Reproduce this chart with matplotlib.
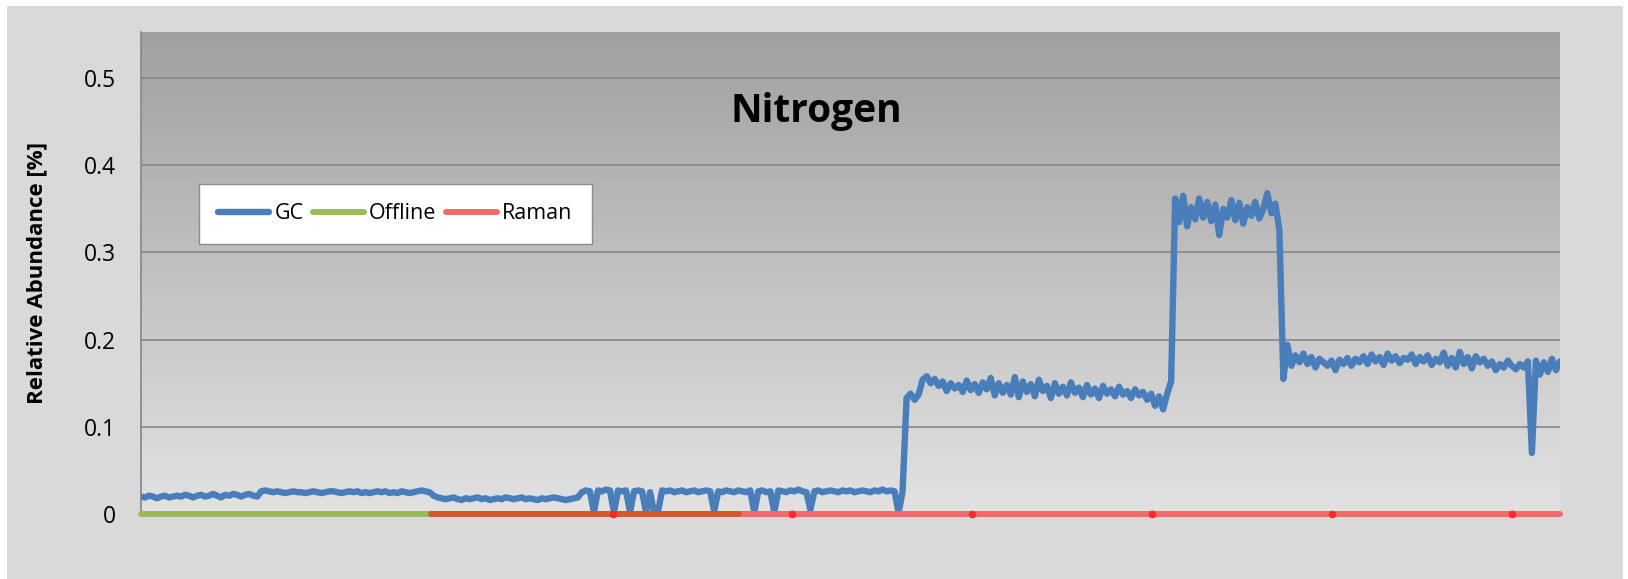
import matplotlib.pyplot as plt
import numpy as np
from matplotlib.patches import Rectangle

plt.rcParams['font.family'] = ['Open Sans', 'DejaVu Sans']

# GC readings (thousandths of a percent) left to right
gc_start = [20, 19, 21, 20, 18, 20, 21, 19, 20, 21, 20, 22, 21, 19, 21, 22, 20, 21, 23, 21,
            19, 22, 21, 23, 22, 20, 22, 23, 21, 20]
gc_step1 = [26, 27, 26, 25, 26, 25, 24, 25, 26, 25, 25, 24, 25, 26, 25, 24, 25, 26, 26, 25,
            24, 25, 26, 25, 26, 24, 25, 24, 25, 26, 25, 26, 24, 25, 24, 26, 25, 24, 25, 26,
            27, 26, 25]
gc_low = [21, 19, 18, 17, 18, 19, 17, 16, 18, 17, 18, 19, 17, 18, 16, 17, 18, 17, 19, 18,
          17, 18, 19, 17, 18, 17, 16, 18, 17, 18, 19, 18, 17, 16, 17, 18, 19]
gc_dips = [25, 27, 26, 2, 27, 26, 28, 27, 2, 27, 26, 27, 2, 26, 27, 26, 2, 25, 2, 3,
           27, 26, 27, 25, 26, 27, 25, 26, 27, 25, 26, 27, 26, 3, 26, 25, 27, 26, 25, 27,
           26, 25, 27, 2, 26, 27, 25, 26, 2, 27, 26, 25, 27, 26, 28, 26, 25, 5, 26, 27,
           25, 26, 27, 26, 25, 27, 26, 27, 25, 26, 27, 26, 25, 27, 26, 28, 26, 27, 26, 1,
           26]
gc_mid = [133, 138, 131, 137, 154, 158, 150, 155, 147, 152, 141, 150, 144, 148, 140, 153,
          142, 149, 139, 151, 143, 156, 136, 150, 139, 148, 137, 157, 134, 152, 140, 149,
          135, 154, 141, 147, 133, 150, 138, 146, 136, 151, 139, 145, 134, 148, 137, 144,
          133, 147, 138, 143, 135, 146, 137, 141, 133, 143, 136, 140, 131, 138, 124, 135,
          120, 138, 152]
gc_high = [362, 335, 365, 330, 352, 338, 362, 340, 358, 336, 355, 320, 350, 340, 360, 337,
           357, 333, 352, 342, 358, 339, 350, 368, 345, 356, 326]
gc_end = [155, 194, 170, 182, 174, 184, 172, 180, 168, 178, 174, 170, 176, 165, 177, 172,
          179, 170, 178, 174, 181, 172, 183, 175, 180, 171, 184, 176, 181, 173, 179, 177,
          183, 172, 180, 175, 182, 171, 178, 174, 185, 170, 179, 168, 186, 172, 180, 167,
          181, 174, 178, 170, 175, 165, 172, 168, 176, 170, 166, 172, 168, 175, 70, 176,
          160, 174, 163, 178, 165, 175]

gc = np.array(gc_start + gc_step1 + gc_low + gc_dips + gc_mid + gc_high + gc_end) / 1000.0
sample = np.arange(len(gc))

# zero-valued reference series (sample ranges)
offline_x = [0, 72.3]
overlap_x = [72.3, 149.2]
raman_x = [149.2, 354]
raman_pts = [117.8, 162.5, 207.2, 252.2, 297.2, 342]

yticks = [0, 0.1, 0.2, 0.3, 0.4, 0.5]
ylabels = ['0', '0.1', '0.2', '0.3', '0.4', '0.5']

fig = plt.figure(figsize=(16.28, 5.79), dpi=100)
fig.patch.set_facecolor('white')
fig.add_artist(Rectangle((7 / 1628, 0), 1616 / 1628, 573 / 579, transform=fig.transFigure,
                         facecolor='#d9d9d9', edgecolor='none', zorder=0))

ax = fig.add_axes([0.0866, 0.1123, 0.8716, 0.8325])
ax.set_facecolor('none')

# vertical grey gradient in the plot area
shade = np.linspace(160, 226, 256) / 255.0
grad = np.dstack([shade, shade, shade]).reshape(256, 1, 3)
ax.imshow(grad, extent=(0, 1, 0, 1), transform=ax.transAxes, aspect='auto', zorder=0)

ax.plot(sample, gc, color='#4a7ebb', lw=4.6, solid_capstyle='round',
        solid_joinstyle='round', label='GC', zorder=3)
ax.plot(offline_x, [0, 0], color='#9bbb59', lw=4.3, label='Offline',
        solid_capstyle='round', clip_on=False, zorder=4)
ax.plot(raman_x, [0, 0], color='#f06c6c', lw=4.3, label='Raman',
        solid_capstyle='round', clip_on=False, zorder=4)
ax.plot(overlap_x, [0, 0], color='#d05a28', lw=4.3, solid_capstyle='round',
        clip_on=False, zorder=4)
ax.plot(raman_pts, np.zeros(len(raman_pts)), 'o', color='#ff2a2a', ms=4.5,
        clip_on=False, zorder=5)

ax.set_xlim(0, len(gc) - 1)
ax.set_ylim(0, 0.553)
ax.set_xticks([])
ax.set_yticks(yticks)
ax.set_yticklabels(ylabels)
ax.tick_params(axis='y', length=0, pad=18, labelsize=16.5)
ax.yaxis.grid(True, color='#868686', lw=1.2)
ax.set_axisbelow(True)
for s in ['top', 'right', 'bottom']:
    ax.spines[s].set_visible(False)
ax.spines['left'].set_color('#868686')
ax.spines['left'].set_linewidth(1.2)

ax.set_ylabel('Relative Abundance [%]', fontsize=16, fontweight='bold')
ax.yaxis.set_label_coords(-0.0662, 0.5)

ax.text(0.476, 0.834, 'Nitrogen', transform=ax.transAxes, ha='center', va='center',
        fontsize=28, fontweight='bold')

leg = ax.legend(loc='upper left', bbox_to_anchor=(0.0409, 0.685), ncol=3, fontsize=15.5,
                frameon=True, fancybox=False, edgecolor='#8c8c8c', facecolor='white',
                framealpha=1, handlelength=2.35, handletextpad=0.25, columnspacing=0.45,
                borderpad=0.9, borderaxespad=0)
leg.get_frame().set_linewidth(1.0)

fig.savefig('out.png', dpi=100)
